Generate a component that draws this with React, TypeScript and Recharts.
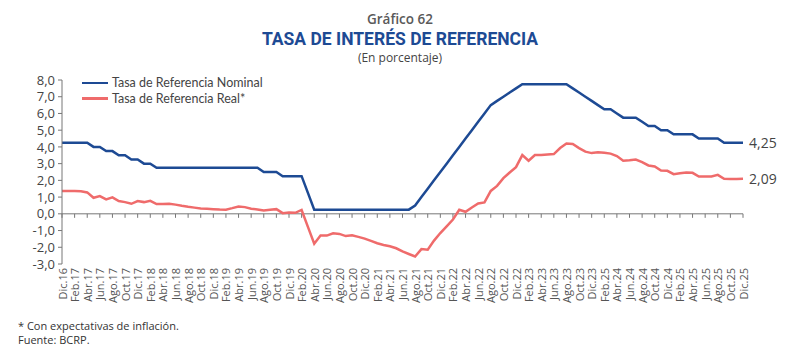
import { LineChart, Line, XAxis, YAxis, ReferenceLine } from 'recharts'

// monthly data, Dic.16 .. Dic.25
const NOMINAL = [
    4.25,
    4.25, 4.25, 4.25, 4.25, 4.0, 4.0, 3.75, 3.75, 3.5, 3.5, 3.25, 3.25, // 2017
    3.0, 3.0, 2.75, 2.75, 2.75, 2.75, 2.75, 2.75, 2.75, 2.75, 2.75, 2.75, // 2018
    2.75, 2.75, 2.75, 2.75, 2.75, 2.75, 2.75, 2.5, 2.5, 2.5, 2.25, 2.25, // 2019
    2.25, 2.25, 1.25, 0.25, 0.25, 0.25, 0.25, 0.25, 0.25, 0.25, 0.25, 0.25, // 2020
    0.25, 0.25, 0.25, 0.25, 0.25, 0.25, 0.25, 0.5, 1.0, 1.5, 2.0, 2.5, // 2021
    3.0, 3.5, 4.0, 4.5, 5.0, 5.5, 6.0, 6.5, 6.75, 7.0, 7.25, 7.5, // 2022
    7.75, 7.75, 7.75, 7.75, 7.75, 7.75, 7.75, 7.75, 7.5, 7.25, 7.0, 6.75, // 2023
    6.5, 6.25, 6.25, 6.0, 5.75, 5.75, 5.75, 5.5, 5.25, 5.25, 5.0, 5.0, // 2024
    4.75, 4.75, 4.75, 4.75, 4.5, 4.5, 4.5, 4.5, 4.25, 4.25, 4.25, 4.25, // 2025
]

const REAL = [
    1.36,
    1.36, 1.36, 1.35, 1.28, 0.96, 1.06, 0.86, 0.98, 0.76, 0.7, 0.6, 0.76, // 2017
    0.7, 0.78, 0.58, 0.58, 0.6, 0.55, 0.48, 0.42, 0.37, 0.32, 0.3, 0.28, // 2018
    0.26, 0.25, 0.34, 0.44, 0.4, 0.3, 0.26, 0.2, 0.24, 0.28, 0.04, 0.08, // 2019
    0.06, 0.23, -0.78, -1.79, -1.3, -1.3, -1.16, -1.2, -1.33, -1.28, -1.38, -1.48, // 2020
    -1.62, -1.76, -1.86, -1.94, -2.06, -2.25, -2.4, -2.55, -2.11, -2.15, -1.6, -1.15, // 2021
    -0.75, -0.34, 0.24, 0.12, 0.38, 0.62, 0.68, 1.37, 1.67, 2.13, 2.47, 2.79, // 2022
    3.51, 3.17, 3.51, 3.52, 3.55, 3.57, 3.93, 4.2, 4.17, 3.93, 3.72, 3.63, // 2023
    3.68, 3.65, 3.6, 3.45, 3.17, 3.2, 3.24, 3.09, 2.89, 2.83, 2.59, 2.57, // 2024
    2.37, 2.42, 2.47, 2.45, 2.23, 2.23, 2.23, 2.33, 2.09, 2.08, 2.08, 2.09, // 2025
]

// one label every two months (the original has "Feb.25" where Feb.24 should be)
const TICK_LABELS = [
    'Dic.16',
    'Feb.17', 'Abr.17', 'Jun.17', 'Ago.17', 'Oct.17', 'Dic.17',
    'Feb.18', 'Abr.18', 'Jun.18', 'Ago.18', 'Oct.18', 'Dic.18',
    'Feb.19', 'Abr.19', 'Jun.19', 'Ago.19', 'Oct.19', 'Dic.19',
    'Feb.20', 'Abr.20', 'Jun.20', 'Ago.20', 'Oct.20', 'Dic.20',
    'Feb.21', 'Abr.21', 'Jun.21', 'Ago.21', 'Oct.21', 'Dic.21',
    'Feb.22', 'Abr.22', 'Jun.22', 'Ago.22', 'Oct.22', 'Dic.22',
    'Feb.23', 'Abr.23', 'Jun.23', 'Ago.23', 'Oct.23', 'Dic.23',
    'Feb.25', 'Abr.24', 'Jun.24', 'Ago.24', 'Oct.24', 'Dic.24',
    'Feb.25', 'Abr.25', 'Jun.25', 'Ago.25', 'Oct.25', 'Dic.25',
]

const Y_TICKS = [-3, -2, -1, 0, 1, 2, 3, 4, 5, 6, 7, 8]

const BLUE = '#1d4a94'
const RED = '#ef6b6b'
const FONT = '"Open Sans", sans-serif'

const data = NOMINAL.map((v, i) => ({ m: i, nominal: v, real: REAL[i] }))
const xTicks = TICK_LABELS.map((_, k) => k * 2)
const LAST = NOMINAL.length - 1

const fmt = (v: number, d: number) => v.toFixed(d).replace('.', ',')

const RotatedTick = ({ x, y, payload }: any) => (
    <text
        x={x}
        y={y}
        transform={`rotate(-90 ${x} ${y})`}
        textAnchor="end"
        dominantBaseline="central"
        fontSize={11}
        fontFamily={FONT}
        fill="#555"
    >
        {TICK_LABELS[payload.value / 2]}
    </text>
)

const endLabel = (props: any) => {
    const { x, y, index, value } = props
    if (index !== LAST) return null
    return (
        <text key="end" x={x + 6} y={y} dominantBaseline="central" fontSize={14} fontFamily={FONT} fill="#444">
            {fmt(value, 2)}
        </text>
    )
}

export default function App() {
    return (
        <div style={{ position: 'absolute', left: 0, top: 0, width: 800, height: 363, background: '#fff', fontFamily: FONT }}>
            <div style={{ position: 'absolute', top: 10, width: 800, textAlign: 'center', fontSize: 13.5, fontWeight: 600, color: '#5a5a5a' }}>
                Gráfico 62
            </div>
            <div style={{ position: 'absolute', top: 29, width: 800, textAlign: 'center', fontSize: 17.5, fontWeight: 700, color: BLUE, fontFamily: 'Roboto, sans-serif' }}>
                TASA DE INTERÉS DE REFERENCIA
            </div>
            <div style={{ position: 'absolute', top: 49, width: 800, textAlign: 'center', fontSize: 12, color: '#444' }}>
                (En porcentaje)
            </div>

            <LineChart
                width={800}
                height={315}
                data={data}
                margin={{ top: 80, right: 57, bottom: 5, left: 12 }}
                style={{ position: 'absolute', top: 0, left: 0 }}
            >
                <XAxis
                    dataKey="m"
                    type="number"
                    domain={[0, LAST]}
                    ticks={xTicks}
                    interval={0}
                    axisLine={false}
                    tickLine={false}
                    tickSize={0}
                    tickMargin={4}
                    height={46}
                    tick={<RotatedTick />}
                />
                <YAxis
                    domain={[-3, 8]}
                    ticks={Y_TICKS}
                    interval={0}
                    width={50}
                    tickSize={4}
                    tickMargin={3}
                    stroke="#777"
                    tick={{ fontSize: 13, fill: '#444', fontFamily: FONT }}
                    tickFormatter={(v: number) => fmt(v, 1)}
                />
                <ReferenceLine y={0} stroke="#777" strokeWidth={1} />
                {xTicks.map((t) => (
                    <ReferenceLine
                        key={t}
                        segment={[{ x: t, y: 0 }, { x: t, y: -0.24 }]}
                        stroke="#777"
                        strokeWidth={1}
                    />
                ))}
                <Line
                    dataKey="real"
                    stroke={RED}
                    strokeWidth={2.5}
                    dot={false}
                    type="linear"
                    isAnimationActive={false}
                    label={endLabel}
                />
                <Line
                    dataKey="nominal"
                    stroke={BLUE}
                    strokeWidth={2.5}
                    dot={false}
                    type="linear"
                    isAnimationActive={false}
                    label={endLabel}
                />
            </LineChart>

            <div style={{ position: 'absolute', top: 75, left: 82, fontSize: 12.5, color: '#444', lineHeight: '15.5px', fontFamily: 'Lato, sans-serif' }}>
                <div style={{ display: 'flex', alignItems: 'center', height: 15.5 }}>
                    <span style={{ width: 26, height: 2.5, background: BLUE, marginRight: 4, display: 'inline-block' }} />
                    Tasa de Referencia Nominal
                </div>
                <div style={{ display: 'flex', alignItems: 'center', height: 15.5 }}>
                    <span style={{ width: 26, height: 2.5, background: RED, marginRight: 4, display: 'inline-block' }} />
                    Tasa de Referencia Real*
                </div>
            </div>

            <div style={{ position: 'absolute', top: 319, left: 18, fontSize: 11, color: '#333', lineHeight: '14px' }}>
                <div>* Con expectativas de inflación.</div>
                <div>Fuente: BCRP.</div>
            </div>
        </div>
    )
}
